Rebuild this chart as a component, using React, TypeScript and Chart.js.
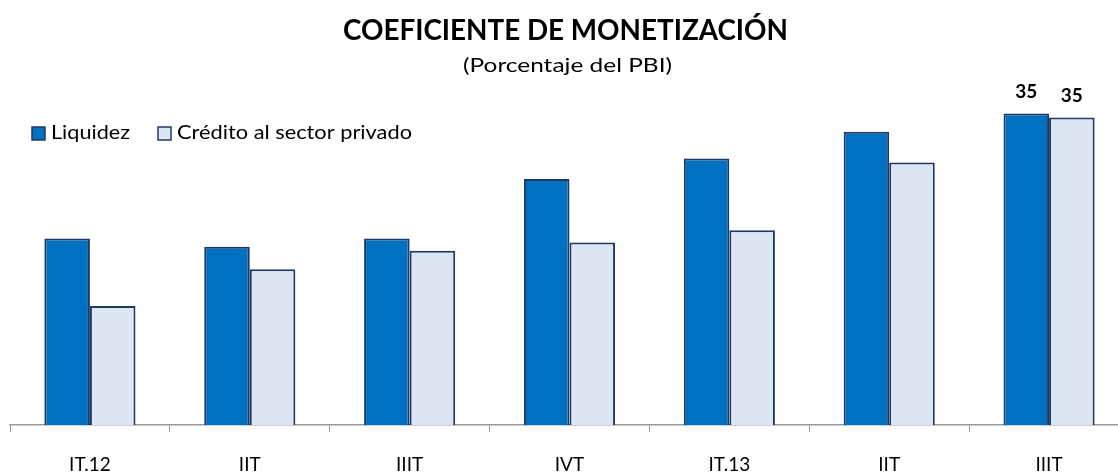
import React, { useEffect, useRef } from "react";
import { Chart, registerables } from "chart.js";

Chart.register(...registerables);

const categories = ["IT.12", "IIT", "IIIT", "IVT", "IT.13", "IIT", "IIIT"];
const liquidez = [29.1, 28.7, 29.1, 32.0, 33.0, 34.3, 35.2];
const credito = [25.8, 27.6, 28.5, 28.9, 29.5, 32.8, 35.0];
const seriesNames = ["Liquidez", "Crédito al sector privado"];
const labeledIndex = 6;
const TITLE = "COEFICIENTE DE MONETIZACIÓN";
const SUBTITLE = "(Porcentaje del PBI)";

const FONT = "Lato, 'Open Sans', sans-serif";
const DARK_BLUE = "#0070C0";
const LIGHT_BLUE = "#DCE6F2";
const BORDER = "#1F3864";
const AXIS = "#9a9a9a";

function drawFitted(ctx: CanvasRenderingContext2D, text: string, font: string, x: number, y: number, width: number, align: "center" | "left") {
  ctx.save();
  ctx.font = font;
  ctx.textBaseline = "alphabetic";
  ctx.textAlign = align;
  const w = ctx.measureText(text).width;
  const s = width / w;
  ctx.translate(x, y);
  ctx.scale(s, 1);
  ctx.fillStyle = "#000";
  ctx.fillText(text, 0, 0);
  ctx.restore();
}

const overlay = {
  id: "overlay",
  afterDraw(chart: any) {
    const ctx = chart.ctx as CanvasRenderingContext2D;
    drawFitted(ctx, TITLE, `bold 29px ${FONT}`, 565.5, 40, 445, "center");
    drawFitted(ctx, SUBTITLE, `20px ${FONT}`, 567.5, 72, 209, "center");

    // legend
    ctx.save();
    ctx.lineWidth = 1.5;
    ctx.strokeStyle = BORDER;
    ctx.fillStyle = DARK_BLUE;
    ctx.fillRect(32, 127, 13, 13);
    ctx.strokeRect(32, 127, 13, 13);
    ctx.fillStyle = LIGHT_BLUE;
    ctx.fillRect(158, 127, 13, 13);
    ctx.strokeRect(158, 127, 13, 13);
    ctx.restore();
    drawFitted(ctx, seriesNames[0], `19px ${FONT}`, 51, 139, 79, "left");
    drawFitted(ctx, seriesNames[1], `19px ${FONT}`, 177, 139, 235, "left");

    // data labels on last pair
    ctx.save();
    ctx.font = `bold 19px ${FONT}`;
    ctx.fillStyle = "#000";
    ctx.textAlign = "center";
    ctx.textBaseline = "alphabetic";
    chart.data.datasets.forEach((ds: any, i: number) => {
      const el = chart.getDatasetMeta(i).data[labeledIndex];
      if (!el) return;
      const v = ds.data[labeledIndex];
      ctx.fillText(String(Math.round(v)), el.x, el.y - 15.5);
    });
    ctx.restore();
  },
};

export default function App() {
  const ref = useRef<HTMLCanvasElement | null>(null);
  useEffect(() => {
    if (!ref.current) return;
    const chart = new Chart(ref.current, {
      type: "bar",
      data: {
        labels: categories,
        datasets: [
          {
            label: seriesNames[0],
            data: liquidez,
            backgroundColor: DARK_BLUE,
            borderColor: BORDER,
            borderWidth: 2,
            categoryPercentage: 0.57,
            barPercentage: 1.0,
          },
          {
            label: seriesNames[1],
            data: credito,
            backgroundColor: LIGHT_BLUE,
            borderColor: BORDER,
            borderWidth: 2,
            categoryPercentage: 0.57,
            barPercentage: 1.0,
          },
        ],
      },
      options: {
        responsive: false,
        animation: false,
        layout: { padding: { top: 97, left: 10, right: 12, bottom: 0 } },
        plugins: {
          legend: { display: false },
          title: { display: false },
          tooltip: { enabled: false },
        },
        scales: {
          x: {
            afterFit: (scale: any) => {
              scale.height = 49;
            },
            grid: {
              display: true,
              drawOnChartArea: false,
              tickLength: 7,
              color: AXIS,
              offset: true,
            },
            border: { display: true, color: AXIS, width: 1.5 },
            ticks: {
              color: "#000",
              font: { family: FONT, size: 19 },
              padding: 21,
              maxRotation: 0,
              autoSkip: false,
            },
          },
          y: {
            display: false,
            min: 20,
            max: 36,
          },
        },
      },
      plugins: [overlay],
    });
    return () => chart.destroy();
  }, []);
  return (
    <div style={{ position: "fixed", left: 0, top: 0, width: 1118, height: 474, overflow: "hidden", background: "#fff" }}>
      <canvas ref={ref} width={1141} height={474} style={{ display: "block" }} />
    </div>
  );
}
